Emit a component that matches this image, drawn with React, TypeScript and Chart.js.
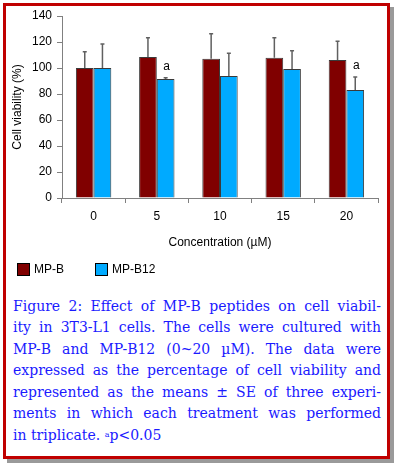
import React, { useEffect, useRef } from "react";
import { Chart, registerables } from "chart.js";

Chart.register(...registerables);

const categories = ["0", "5", "10", "15", "20"];
const mpB = [100, 108.5, 107.2, 107.9, 106.2];
const mpBErr = [12.5, 14.8, 19.2, 15.4, 14.3];
const mpB12 = [100, 91.5, 93.8, 99.2, 83.1];
const mpB12Err = [18.5, 1.0, 17.5, 14.1, 10.0];
const mpB12Marks = ["", "a", "", "", "a"];
const yTicks = [0, 20, 40, 60, 80, 100, 120, 140];

const SANS = "'Liberation Sans', Arial, sans-serif";
const COLOR_B = "#800000";
const COLOR_B12 = "#00aaff";

const captionLines = [
  "Figure 2: Effect of MP-B peptides on cell viabil-",
  "ity in 3T3-L1 cells. The cells were cultured with",
  "MP-B and MP-B12 (0~20 \u00b5M). The data were",
  "expressed as the percentage of cell viability and",
  "represented as the means \u00b1 SE of three experi-",
  "ments in which each treatment was performed",
];

const errorBarPlugin = {
  id: "errorBars",
  afterDatasetsDraw(chart: any) {
    const ctx = chart.ctx;
    const yScale = chart.scales.y;
    const errs = [mpBErr, mpB12Err];
    const vals = [mpB, mpB12];
    ctx.save();
    chart.data.datasets.forEach((ds: any, di: number) => {
      const meta = chart.getDatasetMeta(di);
      meta.data.forEach((bar: any, i: number) => {
        const x = bar.x;
        const y0 = yScale.getPixelForValue(vals[di][i]);
        const y1 = yScale.getPixelForValue(vals[di][i] + errs[di][i]);
        ctx.strokeStyle = "#606060";
        ctx.lineWidth = 1.5;
        ctx.beginPath();
        ctx.moveTo(x, y0);
        ctx.lineTo(x, y1);
        ctx.moveTo(x - 2, y1);
        ctx.lineTo(x + 2, y1);
        ctx.stroke();
        if (di === 1 && mpB12Marks[i]) {
          ctx.fillStyle = "#000";
          ctx.font = `12px ${SANS}`;
          ctx.textAlign = "center";
          ctx.textBaseline = "middle";
          ctx.fillText(mpB12Marks[i], x + 1, y1 - 11);
        }
      });
    });
    ctx.restore();
  },
};

export default function App() {
  const ref = useRef<HTMLCanvasElement | null>(null);

  useEffect(() => {
    if (!ref.current) return;
    const chart = new Chart(ref.current, {
      type: "bar",
      data: {
        labels: categories,
        datasets: [
          {
            label: "MP-B",
            data: mpB,
            backgroundColor: COLOR_B,
            borderColor: "#3a3a3a",
            borderWidth: 1,
          },
          {
            label: "MP-B12",
            data: mpB12,
            backgroundColor: COLOR_B12,
            borderColor: "#3a3a3a",
            borderWidth: 1,
          },
        ],
      },
      options: {
        responsive: false,
        animation: false,
        devicePixelRatio: 1,
        layout: { padding: { left: 0, right: 18, top: 16, bottom: 32 } },
        datasets: {
          bar: { categoryPercentage: 0.56, barPercentage: 1.0 },
        },
        plugins: {
          legend: { display: false },
          tooltip: { enabled: false },
        },
        scales: {
          x: {
            grid: {
              display: true,
              drawOnChartArea: false,
              drawTicks: true,
              tickLength: 5,
              color: "#808080",
              offset: true,
            },
            border: { display: true, color: "#808080", width: 1 },
            ticks: {
              color: "#000",
              font: { family: SANS, size: 12 },
              padding: 6,
            },
            title: {
              display: true,
              text: "Concentration (\u00b5M)",
              color: "#000",
              font: { family: SANS, size: 12 },
              padding: { top: 0, bottom: 8 },
            },
            afterFit(scale: any) {
              scale.height = 60;
            },
          },
          y: {
            min: 0,
            max: 140,
            afterBuildTicks(scale: any) {
              scale.ticks = yTicks.map((v) => ({ value: v }));
            },
            grid: {
              display: true,
              drawOnChartArea: false,
              drawTicks: true,
              tickLength: 5,
              color: "#808080",
            },
            border: { display: true, color: "#808080", width: 1 },
            ticks: {
              color: "#000",
              font: { family: SANS, size: 12 },
              padding: 5,
            },
            title: {
              display: true,
              text: "Cell viability (%)",
              color: "#000",
              font: { family: SANS, size: 12 },
              padding: { top: 10, bottom: 0 },
            },
            afterFit(scale: any) {
              scale.width = 62;
            },
          },
        },
      },
      plugins: [errorBarPlugin],
    });
    return () => chart.destroy();
  }, []);

  const legendBox = (color: string, left: number) => (
    <div
      style={{
        position: "absolute",
        left,
        top: 263,
        width: 11,
        height: 11,
        background: color,
        border: "1px solid #000",
      }}
    />
  );
  const legendText = (text: string, left: number) => (
    <div
      style={{
        position: "absolute",
        left,
        top: 261,
        height: 16,
        lineHeight: "16px",
        fontFamily: SANS,
        fontSize: 12,
        color: "#000",
      }}
    >
      {text}
    </div>
  );

  return (
    <div>
      <div
        style={{
          position: "absolute",
          left: 3,
          top: 3,
          width: 381,
          height: 450,
          border: "3px solid #c00000",
          boxShadow: "4px 4px 0 #9a9a9a",
          background: "#fff",
        }}
      />
      <canvas
        ref={ref}
        width={396}
        height={290}
        style={{ position: "absolute", left: 0, top: 0, width: 396, height: 290 }}
      />
      {legendBox(COLOR_B, 17)}
      {legendText("MP-B", 34)}
      {legendBox(COLOR_B12, 95)}
      {legendText("MP-B12", 112)}
      <div
        style={{
          position: "absolute",
          left: 13,
          top: 296,
          width: 368,
          fontFamily: "'DejaVu Serif', serif",
          fontSize: 14,
          lineHeight: "21.4px",
          color: "#1a1aff",
        }}
      >
        {captionLines.map((line, i) => (
          <div
            key={i}
            style={{ textAlign: "justify", textAlignLast: "justify", whiteSpace: "nowrap" }}
          >
            {line}
          </div>
        ))}
        <div style={{ whiteSpace: "nowrap" }}>
          in triplicate. <span style={{ fontSize: 8, verticalAlign: "3px" }}>a</span>p&lt;0.05
        </div>
      </div>
    </div>
  );
}
